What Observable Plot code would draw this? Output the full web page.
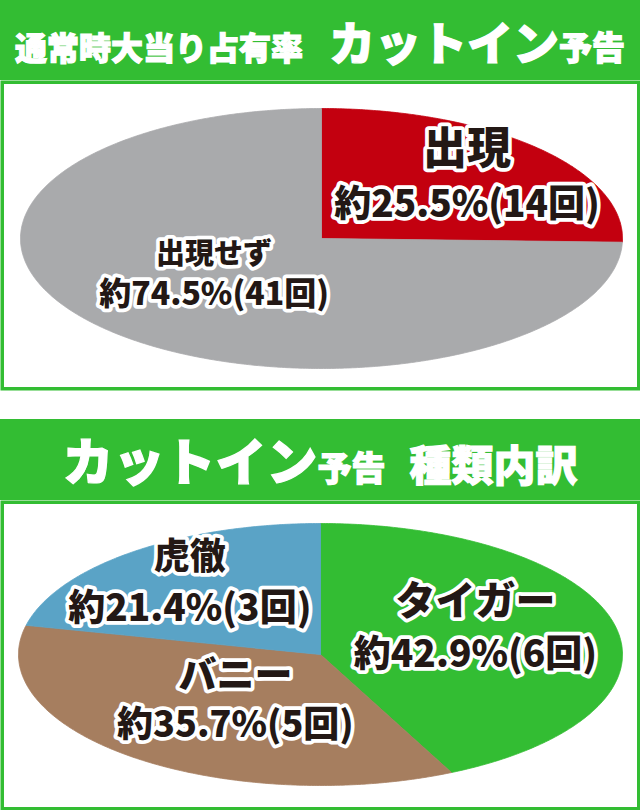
<!DOCTYPE html>
<html>
<head>
<meta charset="utf-8">
<script src="https://cdn.jsdelivr.net/npm/d3@7"></script>
<script src="https://cdn.jsdelivr.net/npm/@observablehq/plot@0.6"></script>
<style>
  html, body { margin: 0; padding: 0; background: #fff; }
  body { width: 640px; font-family: "Noto Sans CJK JP", sans-serif; }
  .hdr { background: #33bd33; color: #fff; display: flex; justify-content: center; align-items: center; font-weight: 900; -webkit-text-stroke: 1.2px #fff; }
  .hdr .in { white-space: nowrap; line-height: 1; }
  #h1 { height: 80px; }
  #h2 { height: 81px; margin-top: 29px; }
  #h1 .s { font-size: 32px; margin-right: 26px; }
  #h1 .b { font-size: 46px; }
  #h1 .t { font-size: 33px; }
  #h2 .b { font-size: 51px; }
  #h2 .t { font-size: 34px; margin-right: 24px; }
  #h2 .k { font-size: 42px; }
  .chart svg { display: block; }
</style>
</head>
<body>
<div class="hdr" id="h1"><div class="in"><span class="s">通常時大当り占有率</span><span class="b">カットイン</span><span class="t">予告</span></div></div>
<div class="chart" id="c1"></div>
<div class="hdr" id="h2"><div class="in"><span class="b">カットイン</span><span class="t">予告</span><span class="k">種類内訳</span></div></div>
<div class="chart" id="c2"></div>
<script>
// ---- data ----
const topCategories = ["出現", "出現せず"];
const topCounts = [14, 41];
const topPercents = ["25.5", "74.5"];
const topColors = ["#c3000f", "#a9aaac"];

const bottomCategories = ["タイガー", "バニー", "虎徹"];
const bottomCounts = [6, 5, 3];
const bottomPercents = ["42.9", "35.7", "21.4"];
const bottomColors = ["#33bd33", "#a67e5f", "#5aa3c6"];

// ---- layout (label placement / sizes) ----
const topLabelR = [0.674, 0.454];
const topLabelNudge = [0, 6];
const topNameSize = [44, 29];
const topValueSize = [37, 32];
const topGap = [27.5, 20];

const bottomLabelR = [0.549, 0.452, 0.694];
const bottomLabelNudge = [-8, 0, 0];
const bottomNameSize = [40, 38, 36];
const bottomValueSize = [37, 36, 37];
const bottomGap = [26.5, 25, 25.5];

const GREEN = "#33bd33";
const INK = "#231815";
let filterCount = 0;

function pieChart({categories, counts, percents, colors, labelR, nudge, nameSize, valueSize, gap, xRange, yRange}) {
  const arcs = d3.pie().sort(null).value(d => d)(counts);
  const points = [];
  arcs.forEach((a, i) => {
    const key = categories[i];
    points.push({key, x: 0, y: 0});
    const n = Math.max(2, Math.ceil((a.endAngle - a.startAngle) / (Math.PI / 360)));
    for (let k = 0; k <= n; k++) {
      const t = a.startAngle + (a.endAngle - a.startAngle) * k / n;
      points.push({key, x: Math.sin(t), y: Math.cos(t)});
    }
    points.push({key, x: 0, y: 0});
  });
  const ryPx = (yRange[0] - yRange[1]) / 2;
  const labels = arcs.map((a, i) => {
    const t = (a.startAngle + a.endAngle) / 2 + nudge[i] * Math.PI / 180;
    const x = labelR[i] * Math.sin(t);
    const y = labelR[i] * Math.cos(t);
    return {
      name: categories[i],
      value: `約${percents[i]}%(${counts[i]}回)`,
      x,
      ny: y + gap[i] / ryPx,
      vy: y - gap[i] / ryPx,
      nameSize: nameSize[i],
      valueSize: valueSize[i]
    };
  });
  const textStyle = {
    fill: INK,
    stroke: "white",
    strokeWidth: 7.5,
    strokeLinejoin: "round",
    paintOrder: "stroke",
    fontWeight: 900,
    fontFamily: "'Noto Sans CJK JP', sans-serif",
    textAnchor: "middle"
  };
  const svg = Plot.plot({
    width: 640,
    height: 310,
    margin: 0,
    style: {background: "white", overflow: "visible"},
    x: {domain: [-1, 1], range: xRange, axis: null},
    y: {domain: [-1, 1], range: yRange, axis: null},
    color: {domain: categories, range: colors},
    marks: [
      Plot.line(points, {x: "x", y: "y", z: "key", fill: "key", stroke: "key", strokeWidth: 0.8}),
      Plot.frame({stroke: GREEN, strokeWidth: 3.5, inset: 1.75}),
      Plot.text(labels, {x: "x", y: "ny", text: "name", fontSize: d => d.nameSize, ariaLabel: "name-label", ...textStyle}),
      Plot.text(labels, {x: "x", y: "vy", text: "value", fontSize: d => d.valueSize, ariaLabel: "value-label", ...textStyle})
    ]
  });
  const NS = "http://www.w3.org/2000/svg";
  // mixed sizes inside the value label
  svg.querySelectorAll('g[aria-label="value-label"] text').forEach(t => {
    const s = t.textContent;
    const m = s.match(/^(約)([\d.]+)(%)(.*)$/);
    if (!m) return;
    t.textContent = "";
    const parts = [[m[1], 0.78, 0], [m[2], 1, 0.04], [m[3], 0.85, 0], [m[4], 0.8, 0]];
    for (const [str, em, ls] of parts) {
      const ts = document.createElementNS(NS, "tspan");
      ts.setAttribute("font-size", em + "em");
      if (ls) ts.setAttribute("letter-spacing", ls + "em");
      ts.textContent = str;
      t.appendChild(ts);
    }
  });
  // heavier glyphs: erode spreads the dark ink over the white halo
  const id = "heavy" + (filterCount++);
  const defs = document.createElementNS(NS, "defs");
  const filter = document.createElementNS(NS, "filter");
  filter.setAttribute("id", id);
  filter.setAttribute("x", "-10%"); filter.setAttribute("y", "-30%");
  filter.setAttribute("width", "120%"); filter.setAttribute("height", "160%");
  const morph = document.createElementNS(NS, "feMorphology");
  morph.setAttribute("operator", "erode");
  morph.setAttribute("radius", "0.9");
  filter.appendChild(morph);
  defs.appendChild(filter);
  svg.insertBefore(defs, svg.firstChild);
  svg.querySelectorAll('g[aria-label="value-label"], g[aria-label="name-label"]').forEach(g => g.setAttribute("filter", `url(#${id})`));
  return svg;
}

document.getElementById("c1").appendChild(pieChart({
  categories: topCategories, counts: topCounts, percents: topPercents, colors: topColors,
  labelR: topLabelR, nudge: topLabelNudge, nameSize: topNameSize, valueSize: topValueSize, gap: topGap,
  xRange: [20, 622], yRange: [288, 28]
}));
document.getElementById("c2").appendChild(pieChart({
  categories: bottomCategories, counts: bottomCounts, percents: bottomPercents, colors: bottomColors,
  labelR: bottomLabelR, nudge: bottomLabelNudge, nameSize: bottomNameSize, valueSize: bottomValueSize, gap: bottomGap,
  xRange: [18, 622], yRange: [285, 23]
}));
</script>
</body>
</html>
